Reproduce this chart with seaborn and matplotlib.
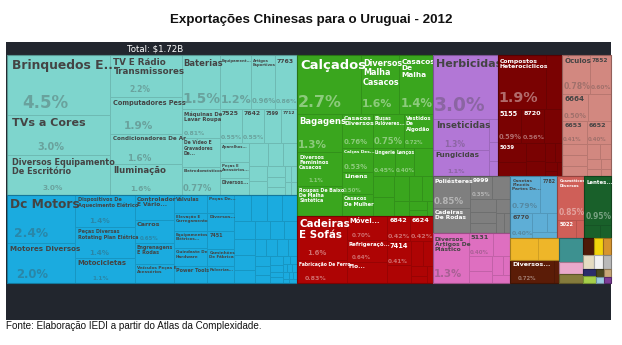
import matplotlib
matplotlib.use("Agg")
import matplotlib.pyplot as plt
import seaborn as sns
import matplotlib.colors as mcolors
from matplotlib.patches import Rectangle
from matplotlib.textpath import TextPath
from matplotlib.font_manager import FontProperties

# ---------------- data (shares of total exports, %) ----------------
title = "Exportações Chinesas para o Uruguai - 2012"
total_label = "Total: $1.72B"
source = "Fonte: Elaboração IEDI a partir do Atlas da Complexidade."

eletronicos_labels = ["Brinquedos E...", "TVs a Cores", "Diversos Equipamento De Escritório",
                      "TV E Rádio Transmissores", "Computadores Pess", "Condicionadores De Ar",
                      "Iluminação", "Baterias", "Equipamentos Semicondutores", "Artigos Esportivos",
                      "7763", "Máquinas De Lavar Roupa", "De Vídeo E Gravadores De...",
                      "Eletrodomésticos", "7525", "7642", "7599", "7712",
                      "Aparelhos De Condicionamento", "Peças E Acessórios...", "Diversos..."]
eletronicos_values = [4.5, 3.0, 3.0, 2.2, 1.9, 1.6, 1.6, 1.5, 1.2, 0.96, 0.86, 0.81, 0.79, 0.77,
                      0.55, 0.55, 0.43, 0.40, 0.40, 0.35, 0.35,
                      0.3, 0.25, 0.22, 0.2, 0.18, 0.15, 0.12, 0.1, 0.08, 0.07, 0.06, 0.05]

maquinas_labels = ["Dc Motors", "Motores Diversos", "Dispositivos De Aquecimento Elétrico",
                   "Peças Diversas Rotating Plan Elétrica", "Motocicletas", "Controlador E Vário...",
                   "Carros", "Engrenagens E Rodas", "Veículos Peças E Acessórios", "Válvulas",
                   "Elevação E Carregamento", "Equipamentos Elétricos...", "Guindaste De Hardware",
                   "Power Tools", "Peças De...", "Diversos...", "7451", "Caminhões De Fábrica",
                   "Pulverizadores"]
maquinas_values = [2.38, 1.98, 1.4, 1.38, 1.08, 0.72, 0.65, 0.6, 0.53, 0.44, 0.43, 0.43, 0.42, 0.42,
                   0.36, 0.35, 0.34, 0.34, 0.33,
                   0.32, 0.31, 0.3, 0.28, 0.26, 0.24, 0.22, 0.2, 0.19, 0.18, 0.16, 0.15, 0.14, 0.13,
                   0.12, 0.11, 0.1, 0.09, 0.08, 0.06, 0.05, 0.05, 0.04, 0.04, 0.03, 0.03, 0.03, 0.03,
                   0.02, 0.02, 0.02, 0.02]

texteis_labels = ["Calçados", "Diversos Malha Casacos", "Casacos De Malha", "Bagagens",
                  "Diversos Femininos Casacos", "Roupas De Baixo De Malha Sintética",
                  "Casacos Diversos", "Blusas Pulôveres...", "Vestidos De Algodão", "Calças Des...",
                  "Linens", "Casacos De Mulher", "Lingerie", "Lenços"]
texteis_values = [2.74, 1.64, 1.44, 1.26, 1.1, 1.0, 0.76, 0.75, 0.72, 0.53, 0.5, 0.48, 0.45, 0.4,
                  0.38, 0.34, 0.3, 0.27, 0.24, 0.2, 0.16, 0.12, 0.08, 0.06]

moveis_labels = ["Cadeiras E Sofás", "Fabricação De Ferro", "Móvei...", "Refrigeraçõ...", "Flo...",
                 "6842", "6624", "7414"]
moveis_values = [1.6, 0.83, 0.70, 0.64, 0.61, 0.42, 0.42, 0.41, 0.3, 0.22, 0.17, 0.12, 0.09, 0.07]

agro_labels = ["Herbicidas", "Inseticidas", "Fungicidas"]
agro_values = [3.0, 1.28, 1.05, 0.15, 0.12, 0.1]

quimicos_labels = ["Compostos Heterociclicos", "", "5155", "8720", "", "5039"]
quimicos_values = [1.9, 0.62, 0.59, 0.56, 0.45, 0.4, 0.3, 0.25, 0.2, 0.15, 0.1, 0.08, 0.05, 0.05]

otica_labels = ["Óculos", "7852", "6664", "", "6653", "6652", "8888"]
otica_values = [0.78, 0.6, 0.5, 0.45, 0.41, 0.4, 0.2, 0.2, 0.18, 0.15, 0.13, 0.1, 0.08, 0.07, 0.05]

poliester_labels = ["Poliésteres", "Cadeiras De Rodas", "9999"]
poliester_values = [0.85, 0.70, 0.35, 0.3, 0.25, 0.2, 0.18, 0.15, 0.12, 0.1]

plastico_labels = ["Diversos Artigos De Plástico", "5131"]
plastico_values = [1.3, 0.4, 0.3, 0.25, 0.2, 0.15, 0.1, 0.1]

papelaria_labels = ["Canetas Pincéis Partes De...", "7782", "6770"]
papelaria_values = [0.79, 0.45, 0.4, 0.2, 0.15, 0.11]

cosmeticos_labels = ["Cosméticos Diversos", "5022"]
cosmeticos_values = [0.85, 0.25, 0.1]

lentes_labels = ["Lentes..."]
lentes_values = [0.95, 0.15, 0.1]

diversos_labels = ["Diversos..."]
diversos_values = [0.72, 0.08]

metais_labels = []
metais_values = [0.45, 0.35]

outros_values = [0.43, 0.21, 0.15, 0.13, 0.12, 0.1, 0.1, 0.09, 0.08, 0.07, 0.06, 0.05, 0.04, 0.04, 0.03]

# ---------------- palette ----------------
main_colors = ["#7ed5cd", "#1babdf", "#3aa61e", "#ae0404", "#b277d6", "#7a0202", "#d28880",
               "#7f7f7f", "#de6fc0", "#5eaed6", "#cf5f58", "#19602a", "#5b1c07", "#eeb629"]
outros_colors = ["#3d9190", "#e9a9cb", "#857b3c", "#4e1a08", "#f4d40c", "#d6952f", "#e5dcc2",
                 "#f2f2f2", "#b9b9b9", "#2b2c6b", "#a6cf4a", "#4a4720", "#9ccbe0", "#c8a878",
                 "#7d3c98"]

groups = [
    (eletronicos_labels, eletronicos_values),
    (maquinas_labels, maquinas_values),
    (texteis_labels, texteis_values),
    (moveis_labels, moveis_values),
    (agro_labels, agro_values),
    (quimicos_labels, quimicos_values),
    (otica_labels, otica_values),
    (poliester_labels, poliester_values),
    (plastico_labels, plastico_values),
    (papelaria_labels, papelaria_values),
    (cosmeticos_labels, cosmeticos_values),
    (lentes_labels, lentes_values),
    (diversos_labels, diversos_values),
    (metais_labels, metais_values),
] + [([], [v]) for v in outros_values]
colors = main_colors + outros_colors

# ---------------- squarified layout (d3 golden-ratio squarify) ----------------
PHI = (1 + 5 ** 0.5) / 2


def squarify(values, x0, y0, x1, y1, ratio=PHI):
    order = sorted(range(len(values)), key=lambda i: -values[i])
    nodes = [values[i] for i in order]
    rects = [None] * len(values)
    n = len(nodes)
    i0 = i1 = 0
    value = float(sum(nodes))
    while i0 < n:
        dx, dy = x1 - x0, y1 - y0
        sumv = nodes[i1]
        i1 += 1
        minv = maxv = sumv
        alpha = max(dy / dx, dx / dy) / (value * ratio)
        beta = sumv * sumv * alpha
        minratio = max(maxv / beta, beta / minv)
        while i1 < n:
            nv = nodes[i1]
            s2 = sumv + nv
            mn, mx = min(minv, nv), max(maxv, nv)
            beta = s2 * s2 * alpha
            nr = max(mx / beta, beta / mn)
            if nr > minratio:
                break
            sumv, minv, maxv, minratio = s2, mn, mx, nr
            i1 += 1
        row = nodes[i0:i1]
        if dx < dy:
            h = dy * sumv / value if value > 0 else dy
            cx = x0
            for k, v in enumerate(row):
                w = dx * v / sumv
                rects[order[i0 + k]] = (cx, y0, w, h)
                cx += w
            y0 += h
        else:
            w = dx * sumv / value if value > 0 else dx
            cy = y0
            for k, v in enumerate(row):
                h = dy * v / sumv
                rects[order[i0 + k]] = (x0, cy, w, h)
                cy += h
            x0 += w
        value -= sumv
        i0 = i1
    return rects


# ---------------- text fitting helpers ----------------
FP = FontProperties(family="DejaVu Sans", weight="bold")
_cache = {}


def em_w(s):
    if not s.strip():
        return 0.0
    if s not in _cache:
        _cache[s] = TextPath((0, 0), s, size=100, prop=FP).get_extents().width / 100.0
    return _cache[s]


MINFS = 3.8


def wrap(words, fs, maxw):
    lines, cur = [], ""
    for wd in words:
        t = wd if not cur else cur + " " + wd
        if em_w(t) * fs <= maxw:
            cur = t
        else:
            if em_w(wd) * fs > maxw:
                return None
            if cur:
                lines.append(cur)
            cur = wd
    if cur:
        lines.append(cur)
    return lines


def layout_name(name, w, h):
    pad = min(6, max(2, 0.05 * w))
    W = (w - 2 * pad) * 1.12
    fs_max = min(14, 0.28 * min(w, h))
    if fs_max < MINFS or W <= 0:
        return None
    best = None
    fs1 = min(fs_max, W / max(em_w(name), 1e-6))
    if fs1 >= MINFS and fs1 * 1.2 <= 0.6 * h:
        best = (fs1, [name])
    words = name.split()
    fs = fs_max
    lines = None
    while fs >= MINFS:
        ln = wrap(words, fs, W)
        if ln and len(ln) <= 3 and len(ln) * fs * 1.15 <= 0.55 * h:
            lines = ln
            break
        fs -= 0.25
    if lines and len(lines) > 1 and (best is None or fs > 1.5 * best[0]):
        best = (fs, lines)
    if best is None:
        if h < 8:
            return None
        s = name
        while len(s) > 2 and em_w(s + "...") * MINFS > W:
            s = s[:-1]
        if len(s) <= 2:
            return None
        best = (MINFS, [s.rstrip() + "..."])
    return pad, best[0], best[1]


def shade(c, f):
    r, g, b = mcolors.to_rgb(c)
    return (r * (1 - f), g * (1 - f), b * (1 - f))


def text_color(c):
    r, g, b = [int(255 * t) for t in mcolors.to_rgb(c)]
    yiq = (r * 299 + g * 587 + b * 114) / 1000
    return "#444444" if yiq >= 130 else "#ffffff"


def fmt(v):
    return f"{v:.1f}%" if v >= 1 else f"{v:.2f}%"


PX2PT = 72.0 / 100.0

# ---------------- figure ----------------
sns.set_theme(style="white")
plt.rcParams["font.family"] = ["DejaVu Sans"]

fig = plt.figure(figsize=(6.22, 3.45), dpi=100)
ax = fig.add_axes([0, 0, 1, 1])
ax.set_xlim(0, 622)
ax.set_ylim(345, 0)
ax.axis("off")

ax.add_patch(Rectangle((6, 42), 605, 278, facecolor="#22262e", edgecolor="none", zorder=1))
ax.text(155, 48.7, total_label, color="white", fontsize=6.2, ha="center", va="center",
        family="DejaVu Sans", zorder=2)
ax.text(311, 20, title, fontsize=9.6, ha="center", va="center", family="Liberation Sans",
        weight="bold", color="#111111")
ax.text(6, 326, source, fontsize=7.1, ha="left", va="center", family="Liberation Sans",
        color="#111111")

TX0, TY0, TX1, TY1 = 6.5, 55.0, 611.0, 283.0
group_sums = [sum(v) for _, v in groups]
g_rects = squarify(group_sums, TX0, TY0, TX1, TY1)

z = 10
for gi, ((labels, values), grect) in enumerate(zip(groups, g_rects)):
    col = colors[gi]
    gx, gy, gw, gh = grect
    i_rects = squarify(values, gx, gy, gx + gw, gy + gh)
    edge = shade(col, 0.13)
    for (x, y, w, h) in i_rects:
        ax.add_patch(Rectangle((x, y), w, h, facecolor=col, edgecolor=edge, linewidth=0.5,
                               zorder=z))
    ax.add_patch(Rectangle((gx, gy), gw, gh, fill=False, edgecolor=shade(col, 0.3),
                           linewidth=0.8, zorder=z))
    tc = text_color(col)
    palpha = 0.35 if tc != "#ffffff" else 0.42
    for k, (x, y, w, h) in enumerate(i_rects):
        name = labels[k] if k < len(labels) else ""
        if not name:
            continue
        res = layout_name(name, w, h)
        if res is None:
            continue
        pad, fs, lines = res
        top = y + min(5, max(2, 0.07 * h))
        ax.text(x + pad, top, "\n".join(lines), fontsize=fs * PX2PT, color=tc, ha="left",
                va="top", weight="bold", family="DejaVu Sans", linespacing=1.05,
                zorder=z + 1)
        name_bottom = top + len(lines) * fs * 1.15
        if w < 18:
            continue
        ptxt = fmt(values[k])
        rem = (y + h) - name_bottom
        fsp = min(22, 0.4 * rem, 0.95 * w / em_w(ptxt))
        base = y + h - max(2, 0.12 * h)
        if base - 0.73 * fsp < name_bottom + 1:
            fsp = (base - name_bottom - 1) / 0.73
        if fsp < 5:
            continue
        pw = em_w(ptxt) * fsp
        left = max(x + 1, x + w / 2 - 0.8 * pw)
        ax.text(left, base, ptxt, fontsize=fsp * PX2PT, color=tc,
                alpha=palpha, ha="left", va="baseline", weight="bold",
                family="DejaVu Sans", zorder=z + 1)
    z += 2

fig.savefig("out.png", dpi=100, facecolor="white")
